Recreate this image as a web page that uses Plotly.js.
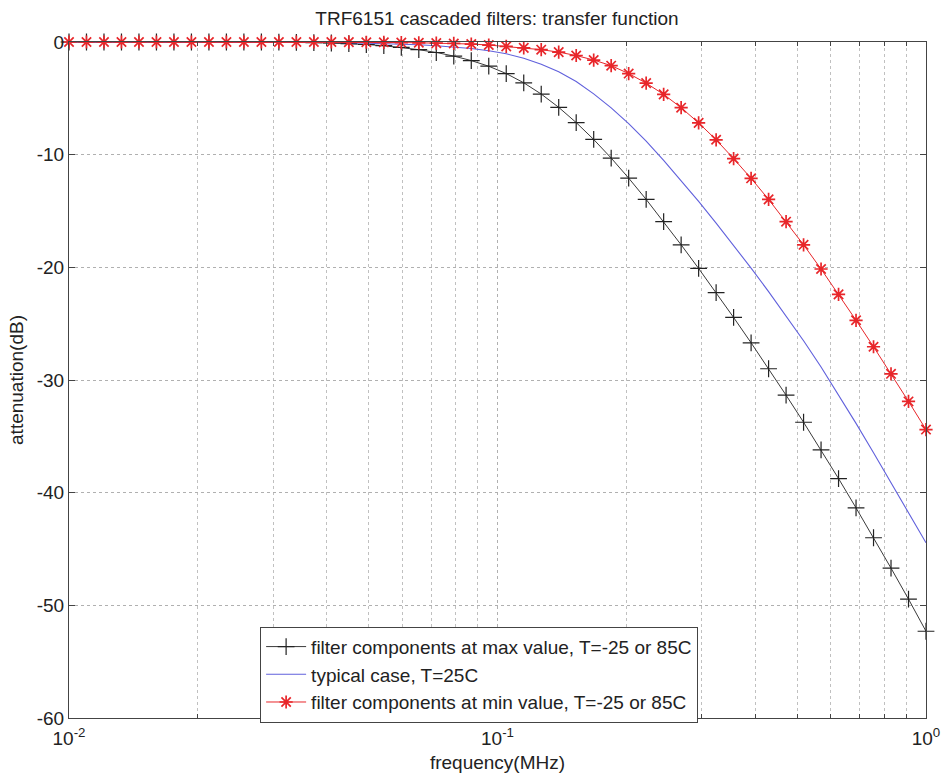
<!DOCTYPE html>
<html>
<head>
<meta charset="utf-8">
<script src="https://cdn.plot.ly/plotly-3.0.1.min.js"></script>
<style>html,body{margin:0;padding:0;background:#fff;}#chart{width:943px;height:778px;}</style>
</head>
<body>
<div id="chart"></div>
<script>
// frequency points (MHz), 50 log-spaced points
const frequency = [0.01, 0.010985, 0.012068, 0.013257, 0.014563, 0.015999, 0.017575, 0.019307, 0.02121, 0.0233,
  0.025595, 0.028118, 0.030888, 0.033932, 0.037276, 0.040949, 0.044984, 0.049417, 0.054287, 0.059636,
  0.065513, 0.071969, 0.07906, 0.086851, 0.09541, 0.104811, 0.11514, 0.126486, 0.13895, 0.152642,
  0.167683, 0.184207, 0.202359, 0.2223, 0.244205, 0.26827, 0.294705, 0.323746, 0.355648, 0.390694,
  0.429193, 0.471487, 0.517947, 0.568987, 0.625055, 0.686649, 0.754312, 0.828643, 0.910298, 1.0];

// filter components at max value, T=-25 or 85C
const attMax = [0, 0, 0, 0, 0, 0, 0, 0, 0, 0,
  0, 0, -0.01, -0.03, -0.05, -0.09, -0.14, -0.22, -0.33, -0.48,
  -0.68, -0.93, -1.25, -1.65, -2.15, -2.8, -3.62, -4.62, -5.8, -7.15,
  -8.65, -10.3, -12.08, -13.97, -15.95, -18.0, -20.1, -22.25, -24.45, -26.7,
  -29.0, -31.35, -33.75, -36.2, -38.75, -41.35, -44.0, -46.7, -49.45, -52.3];

// typical case, T=25C
const attTyp = [0, 0, 0, 0, 0, 0, 0, 0, 0, 0,
  0, 0, -0.01, -0.02, -0.03, -0.05, -0.07, -0.1, -0.14, -0.19,
  -0.25, -0.33, -0.44, -0.58, -0.78, -1.05, -1.44, -1.97, -2.65, -3.5,
  -4.6, -5.85, -7.25, -8.8, -10.5, -12.3, -14.15, -16.07, -18.05, -20.07,
  -22.15, -24.3, -26.52, -28.85, -31.3, -33.85, -36.45, -39.08, -41.75, -44.45];

// filter components at min value, T=-25 or 85C
const attMin = [0, 0, 0, 0, 0, 0, 0, 0, 0, 0,
  0, 0, 0, 0, 0, 0, -0.01, -0.02, -0.03, -0.05,
  -0.07, -0.1, -0.13, -0.18, -0.27, -0.39, -0.52, -0.68, -0.9, -1.2,
  -1.6, -2.1, -2.8, -3.65, -4.65, -5.83, -7.18, -8.68, -10.35, -12.1,
  -13.97, -15.95, -18.0, -20.15, -22.4, -24.7, -27.05, -29.45, -31.9, -34.4];

const seriesNames = [
  'filter components at max value, T=-25 or 85C',
  'typical case, T=25C',
  'filter components at min value, T=-25 or 85C'
];

const xTickVals = [0.01, 0.1, 1];
const xTickText = ['10<sup>-2</sup>', '10<sup>-1</sup>', '10<sup>0</sup>'];
const xMinorVals = [0.02, 0.03, 0.04, 0.05, 0.06, 0.07, 0.08, 0.09, 0.2, 0.3, 0.4, 0.5, 0.6, 0.7, 0.8, 0.9];
const yTickVals = [0, -10, -20, -30, -40, -50, -60];
const yTickText = ['0', '-10', '-20', '-30', '-40', '-50', '-60'];

const FAM = 'Liberation Sans, Arial, sans-serif';
const TXT = '#222';

const traces = [
  {x: frequency, y: attMax, name: seriesNames[0], type: 'scatter', mode: 'lines+markers', cliponaxis: false,
   line: {color: '#3a3a3a', width: 1},
   marker: {symbol: 'cross-thin-open', size: 12, color: '#222', line: {color: '#222', width: 1.2}}},
  {x: frequency, y: attTyp, name: seriesNames[1], type: 'scatter', mode: 'lines', cliponaxis: false,
   line: {color: '#6060dc', width: 1.1}},
  {x: frequency, y: attMin, name: seriesNames[2], type: 'scatter', mode: 'lines+markers', cliponaxis: false,
   line: {color: '#e8262a', width: 1},
   marker: {symbol: 'asterisk-open', size: 11, color: '#e8262a', line: {color: '#e8262a', width: 1.7}}}
];

const layout = {
  width: 943, height: 778,
  margin: {l: 69, r: 17, t: 42, b: 60},
  paper_bgcolor: '#fff', plot_bgcolor: '#fff',
  font: {family: FAM, size: 19, color: TXT},
  showlegend: true,
  title: {text: 'TRF6151 cascaded filters: transfer function', font: {family: FAM, size: 19, color: TXT},
          x: 0.527, xanchor: 'center', y: 0.977, yanchor: 'middle'},
  xaxis: {
    type: 'log', range: [-2, 0], automargin: false,
    tickmode: 'array', tickvals: xTickVals, ticktext: xTickText,
    ticks: 'inside', ticklen: 6, tickcolor: '#444', ticklabelstandoff: 3,
    showline: true, linecolor: '#444', linewidth: 1, mirror: 'ticks',
    showgrid: true, gridcolor: '#b0b0b0', griddash: 'dot', gridwidth: 1,
    zeroline: false,
    minor: {tickmode: 'array', tickvals: xMinorVals, ticks: 'inside', ticklen: 4, tickcolor: '#444',
            showgrid: true, gridcolor: '#c0c0c0', griddash: 'dot', gridwidth: 1},
    tickfont: {family: FAM, size: 19, color: TXT},
    title: {text: 'frequency(MHz)', font: {family: FAM, size: 19, color: TXT}, standoff: 7}
  },
  yaxis: {
    range: [-60, 0], automargin: false,
    tickmode: 'array', tickvals: yTickVals, ticktext: yTickText,
    ticks: 'inside', ticklen: 6, tickcolor: '#444',
    showline: true, linecolor: '#444', linewidth: 1, mirror: 'ticks',
    showgrid: true, gridcolor: '#b0b0b0', griddash: 'dot', gridwidth: 1,
    zeroline: false,
    tickfont: {family: FAM, size: 19, color: TXT},
    title: {text: 'attenuation(dB)', font: {family: FAM, size: 19, color: TXT}, standoff: 8}
  },
  legend: {
    x: 0.223, y: 0.135, xanchor: 'left', yanchor: 'top',
    bgcolor: '#fff', bordercolor: '#444', borderwidth: 1,
    font: {family: FAM, size: 19, color: TXT},
    tracegroupgap: 0, itemwidth: 40
  }
};

Plotly.newPlot('chart', traces, layout, {displayModeBar: false, staticPlot: true});
</script>
</body>
</html>
